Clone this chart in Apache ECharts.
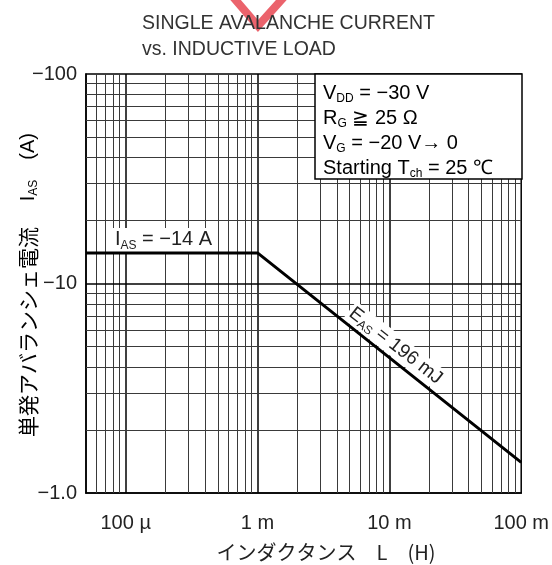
<!DOCTYPE html>
<html><head><meta charset="utf-8">
<script src="https://cdn.jsdelivr.net/npm/echarts/dist/echarts.min.js"></script>
<style>html,body{margin:0;padding:0;background:#fff}#c{width:552px;height:565px}</style>
</head><body><div id="c"></div>
<script>
// ---- data ----
const inductanceH = [5e-5, 1e-3, 1e-1];          // L (H)
const avalancheCurrentA = [14, 14, 1.4];          // |IAS| (A), shown as negative
const xTickValues = [1e-4, 1e-3, 1e-2, 1e-1];
const xTickLabels = ['100 µ', '1 m', '10 m', '100 m'];
const yTickValues = [1, 10, 100];
const yTickLabels = ['−1.0', '−10', '−100'];
const iasLabelPos = [8e-5, 14];
const easLabelPos = [8.7e-3, 4.75];
const conditionLines = [
  '{t|V}{s|DD}{t| = −30 V}',
  '{t|R}{s|G}{t| ≧ 25 Ω}',
  '{t|V}{s|G}{t| = −20 V→ 0}',
  '{t|Starting T}{s|ch}{t| = 25 ℃}'
];

const FONT = 'Liberation Sans';
const TXT = '#222';
const xMin = 5e-5, xMax = 0.1, yMin = 1, yMax = 100;

// grid values per decade (1..9 multiples)
function gridVals(lo, hi) {
  const out = [];
  for (let e = Math.floor(Math.log10(lo)); e <= Math.ceil(Math.log10(hi)); e++) {
    for (let m = 1; m <= 9; m++) {
      const v = m * Math.pow(10, e);
      if (v > lo * 1.0001 && v < hi * 0.9999) out.push({ v: v, major: m === 1 });
    }
  }
  return out;
}
const minorStyle = { color: '#3a3a3a', width: 1, type: 'solid' };
const majorStyle = { color: '#000', width: 1.5, type: 'solid' };
const gridLines = [
  ...gridVals(xMin, xMax).map(g => ({ xAxis: g.v, lineStyle: g.major ? majorStyle : minorStyle })),
  ...gridVals(yMin, yMax).map(g => ({ yAxis: g.v, lineStyle: g.major ? majorStyle : minorStyle }))
];

function lookup(vals, labels, v) {
  const i = vals.findIndex(t => Math.abs(Math.log10(t) - Math.log10(v)) < 1e-6);
  return i >= 0 ? labels[i] : '';
}

const richText = {
  t: { fontFamily: FONT, fontSize: 20, color: TXT, lineHeight: 24 },
  s: { fontFamily: FONT, fontSize: 12, color: TXT, verticalAlign: 'bottom', lineHeight: 24 }
};
const richEas = {
  t: { fontFamily: FONT, fontSize: 19, color: TXT, lineHeight: 22 },
  s: { fontFamily: FONT, fontSize: 12, color: TXT, verticalAlign: 'bottom', lineHeight: 22 }
};

const chart = echarts.init(document.getElementById('c'), null, { renderer: 'canvas' });
chart.setOption({
  animation: false,
  backgroundColor: '#fff',
  grid: { left: 86, right: 30, top: 74, bottom: 72, show: true, borderColor: '#000', borderWidth: 1.5 },
  xAxis: {
    type: 'log', logBase: 10, min: xMin, max: xMax,
    axisLine: { show: true, lineStyle: { color: '#000', width: 1.5 } },
    axisTick: { show: false }, splitLine: { show: false },
    axisLabel: { formatter: v => lookup(xTickValues, xTickLabels, v), fontSize: 20, fontFamily: FONT, color: TXT, margin: 20 }
  },
  yAxis: {
    type: 'log', logBase: 10, min: yMin, max: yMax,
    axisLine: { show: true, lineStyle: { color: '#000', width: 1.5 } },
    axisTick: { show: false }, splitLine: { show: false },
    axisLabel: { formatter: v => lookup(yTickValues, yTickLabels, v), fontSize: 20, fontFamily: FONT, color: TXT, margin: 9 }
  },
  series: [
    {
      type: 'line', data: [], silent: true,
      markLine: { silent: true, precision: 12, symbol: ['none', 'none'], label: { show: false }, animation: false, data: gridLines }
    },
    {
      type: 'line', z: 5,
      data: inductanceH.map((x, i) => [x, avalancheCurrentA[i]]),
      showSymbol: false, symbol: 'none',
      lineStyle: { color: '#000', width: 3 },
      markPoint: {
        symbol: 'circle', symbolSize: 0, silent: true, precision: 12,
        data: [
          { coord: iasLabelPos, label: { show: true, position: 'right', distance: 0, offset: [0, -13],
              backgroundColor: '#fff', padding: [0, 2, 0, 2],
              formatter: '{t|I}{s|AS}{t| = −14 A}', rich: richText } },
          { coord: easLabelPos, label: { show: true, position: 'inside', rotate: -38, offset: [8, -13],
              backgroundColor: '#fff', padding: [0, 2, 0, 2],
              formatter: '{t|E}{s|AS}{t| = 196 mJ}', rich: richEas } }
        ]
      }
    }
  ],
  graphic: [
    { type: 'polyline', z: 1, shape: { points: [[233, -3], [258, 26], [284, -3]] },
      style: { stroke: 'rgba(232,72,82,0.85)', lineWidth: 8, fill: null } },
    { type: 'text', z: 10, x: 142, y: 24, style: { text: 'SINGLE AVALANCHE CURRENT', font: '19.5px "Liberation Sans"', fill: '#333', textVerticalAlign: 'middle' } },
    { type: 'text', z: 10, x: 142, y: 50, style: { text: 'vs. INDUCTIVE LOAD', font: '19.5px "Liberation Sans"', fill: '#333', textVerticalAlign: 'middle' } },
    { type: 'rect', z: 100, shape: { x: 315, y: 74, width: 207, height: 105 }, style: { fill: '#fff', stroke: '#000', lineWidth: 1.5 } },
    ...conditionLines.map((t, i) => ({ type: 'text', z: 101, x: 323, y: 93 + i * 25,
      style: { text: t, rich: richText, textVerticalAlign: 'middle' } })),
    { type: 'text', z: 10, x: 326, y: 552, style: { text: 'インダクタンス　L　(H)', font: '20px "Noto Sans CJK JP"', fill: TXT, textAlign: 'center', textVerticalAlign: 'middle' } },
    { type: 'text', z: 10, x: 28, y: 285, rotation: Math.PI / 2,
      style: { text: '{j|単発アバランシェ電流}{t|　 I}{s|AS}{t|　(A)}', textAlign: 'center', textVerticalAlign: 'middle',
        rich: { j: { fontFamily: 'Noto Sans CJK JP', fontSize: 21, color: TXT, lineHeight: 24 }, t: richText.t, s: richText.s } } }
  ]
});
</script></body></html>
